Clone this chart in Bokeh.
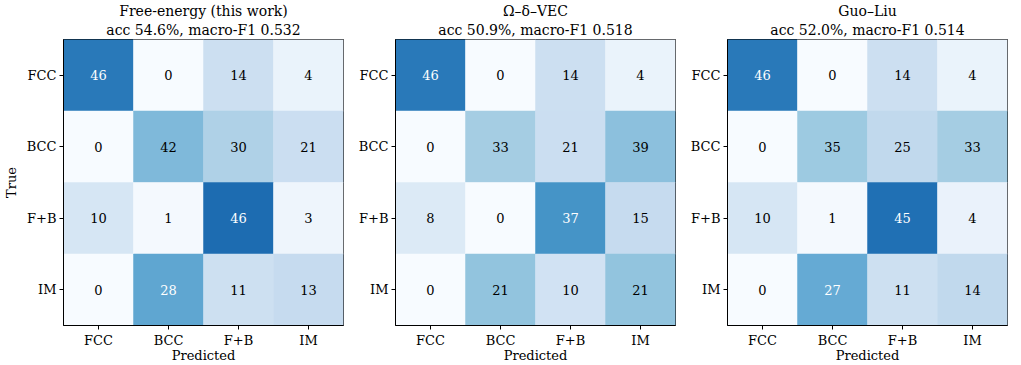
import numpy as np
from bokeh.plotting import figure
from bokeh.models import ColumnDataSource, FactorRange, Title, LinearColorMapper
from bokeh.transform import transform
from bokeh.layouts import row
from bokeh.embed import file_html
from bokeh.resources import INLINE

classes = ["FCC", "BCC", "F+B", "IM"]

titles = ["Free-energy (this work)", "Ω–δ–VEC", "Guo–Liu"]
subtitles = ["acc 54.6%, macro-F1 0.532", "acc 50.9%, macro-F1 0.518", "acc 52.0%, macro-F1 0.514"]

cm_free_energy = [[46, 0, 14, 4],
                  [0, 42, 30, 21],
                  [10, 1, 46, 3],
                  [0, 28, 11, 13]]
cm_omega_delta_vec = [[46, 0, 14, 4],
                      [0, 33, 21, 39],
                      [8, 0, 37, 15],
                      [0, 21, 10, 21]]
cm_guo_liu = [[46, 0, 14, 4],
              [0, 35, 25, 33],
              [10, 1, 45, 4],
              [0, 27, 11, 14]]
matrices = [cm_free_energy, cm_omega_delta_vec, cm_guo_liu]

# matplotlib "Blues" anchors -> 256 colour palette
anchors = ['#f7fbff', '#deebf7', '#c6dbef', '#9ecae1', '#6baed6',
           '#4292c6', '#2171b5', '#08519c', '#08306b']
def h2rgb(h):
    return [int(h[i:i + 2], 16) for i in (1, 3, 5)]
arr = np.array([h2rgb(a) for a in anchors], dtype=float)
pos = np.linspace(0, 1, len(anchors))
t = np.linspace(0, 1, 256)
palette = []
for tt in t:
    rgb = [np.interp(tt, pos, arr[:, k]) for k in range(3)]
    palette.append('#%02x%02x%02x' % tuple(int(round(c)) for c in rgb))

FONT = "DejaVu Serif"
FS = "13px"
FS_TITLE = "14px"
FW = 280
FH = 286

figs = []
for idx, (cm, ttl, sub) in enumerate(zip(matrices, titles, subtitles)):
    m = np.array(cm, dtype=float)
    norm = m / m.sum(axis=1, keepdims=True)
    xs, ys, vals, nv, tc = [], [], [], [], []
    for i, tc_name in enumerate(classes):
        for j, pc_name in enumerate(classes):
            xs.append(pc_name)
            ys.append(tc_name)
            vals.append(str(int(m[i, j])))
            nv.append(norm[i, j])
            tc.append("white" if norm[i, j] > 0.5 else "black")
    src = ColumnDataSource(dict(x=xs, y=ys, v=vals, n=nv, tc=tc))
    mapper = LinearColorMapper(palette=palette, low=0, high=1)

    p = figure(x_range=FactorRange(*classes), y_range=FactorRange(*classes[::-1]),
               frame_width=FW, frame_height=FH, output_backend="svg",
               toolbar_location=None, title=None,
               min_border_left=55 if idx == 0 else 45,
               min_border_right=7 if idx < 2 else 5,
               min_border_top=0, min_border_bottom=0)
    p.rect(x="x", y="y", width=1, height=1, source=src,
           fill_color=transform("n", mapper), line_color=transform("n", mapper),
           line_width=0.5)
    p.text(x="x", y="y", text="v", source=src, text_color="tc",
           text_align="center", text_baseline="middle",
           text_font={"value": FONT}, text_font_size={"value": FS})

    p.add_layout(Title(text=sub, align="center", text_font=FONT, text_font_size=FS_TITLE,
                       text_font_style="normal", text_color="black", standoff=3), "above")
    p.add_layout(Title(text=ttl, align="center", text_font=FONT, text_font_size=FS_TITLE,
                       text_font_style="normal", text_color="black", standoff=0), "above")

    p.grid.visible = False
    p.outline_line_color = "black"
    p.outline_line_alpha = 1
    p.outline_line_width = 1
    for ax in (p.xaxis[0], p.yaxis[0]):
        ax.axis_line_color = "black"
        ax.major_tick_line_color = "black"
        ax.major_tick_out = 4
        ax.major_tick_in = 0
        ax.minor_tick_line_color = None
        ax.major_label_text_font = FONT
        ax.major_label_text_font_size = FS
        ax.major_label_text_color = "black"
        ax.major_label_standoff = 3
        ax.axis_label_text_font = FONT
        ax.axis_label_text_font_size = FS
        ax.axis_label_text_font_style = "normal"
        ax.axis_label_text_color = "black"
    p.xaxis.axis_label = "Predicted"
    p.xaxis.axis_label_standoff = -3
    if idx == 0:
        p.yaxis.axis_label = "True"
        p.yaxis.axis_label_standoff = 5
    p.background_fill_color = "white"
    p.border_fill_color = "white"
    figs.append(p)

layout = row(*figs)
open("out.html", "w").write(file_html(layout, INLINE))
